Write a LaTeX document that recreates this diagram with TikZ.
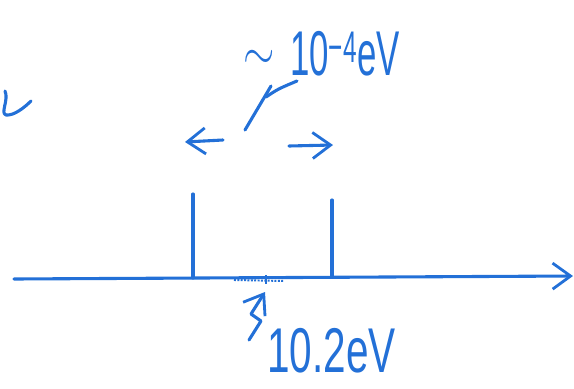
\documentclass[tikz,border=0pt]{standalone}
\usepackage{fontspec}
\setmainfont{Liberation Sans}
\usepackage{graphicx}
\usetikzlibrary{arrows.meta,positioning}
\definecolor{ink}{RGB}{35,112,215}
\newcommand{\hand}[2][0.64]{\scalebox{#1}[1]{#2}}

\begin{document}
\begin{tikzpicture}[x=0.025cm,y=-0.025cm,
  pen/.style={draw=ink,line width=2.2pt,line cap=round,line join=round},
  tip/.style={-{Straight Barb[length=4.5mm,width=6.5mm,line width=2pt]}},
  lbl/.style={text=ink,font=\fontsize{45}{48}\selectfont,inner sep=0pt,anchor=base west}]
\useasboundingbox (0,0) rectangle (574,389);
% energy axis
\coordinate (o) at (14,279);
\coordinate (end) at (573,276);
\draw[pen,tip] (o) -- (end);
% the two lines
\coordinate (lb) at (193,278); \coordinate (lt) at (193,194);
\coordinate (rb) at (332,277); \coordinate (rt) at (332,200);
\draw[pen] (lb) -- (lt);
\draw[pen] (rb) -- (rt);
% splitting arrows
\coordinate (al0) at (223,140); \coordinate (al1) at (185,142);
\coordinate (ar0) at (289,146); \coordinate (ar1) at (333,145);
\draw[pen,tip] (al0) -- (al1);
\draw[pen,tip] (ar0) -- (ar1);
% labels
\node[lbl] (approx) at (243,75)
  {\hand{\raisebox{4pt}{\scalebox{1.8}[1.5]{$\sim$}}}};
\node[lbl] (split) at (290,75) {\hand[0.55]{10\textsuperscript{−4}eV}};
\node[lbl] (lyman) at (267,372) {\hand{10.2eV}};
% leader to the splitting
\coordinate (lead) at (245,130);
\coordinate (hook) at (297,81);
\draw[pen] (lead) -- (271,86);
\draw[pen] (266,97) .. controls (278,89) .. (hook);
% unsplit line and pointer
\draw[ink,line width=1.4pt,densely dotted] (234,280) -- (284,281);
\draw[ink,line width=1.4pt] (266,275) -- (266,284);
\coordinate (res) at (265,292);
\coordinate (sq) at (249,340);
\draw[pen,tip] (sq) -- (261,321) -- (251,314) -- (res);
% cut-off stroke at the left edge
\draw[pen] (5,91) .. controls (9,100) and (0,113) .. (6,115)
  .. controls (14,116) and (25,107) .. (31,101);
\end{tikzpicture}
\end{document}
